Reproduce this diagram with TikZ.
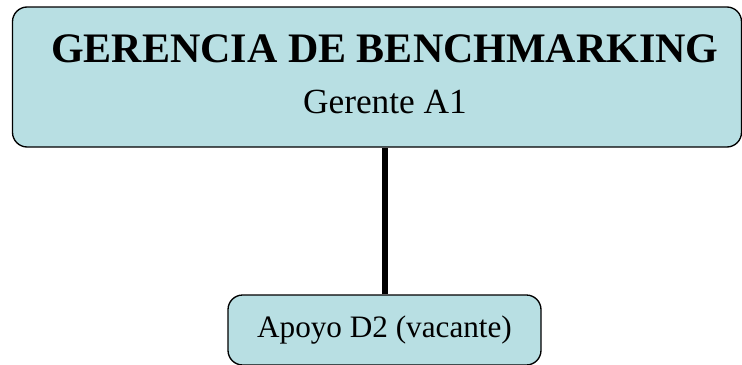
\documentclass[tikz,border=0pt]{standalone}
\usepackage{fontspec}
\setmainfont{Liberation Serif}
\definecolor{boxfill}{RGB}{184,223,227}
\tikzset{
  unit/.style={draw=black, line width=1pt, fill=boxfill, rounded corners=11pt, inner sep=0pt},
  link/.style={line width=4.5pt},
}
\begin{document}
\begin{tikzpicture}[x=0.75pt,y=-0.75pt]
  \useasboundingbox (0,0) rectangle (742,364);
  \node[unit, minimum width=546.75pt, minimum height=105pt] (ger) at (377,77) {};
  \node[align=center, font=\fontsize{31.5}{38}\selectfont] (gertxt) at (385,74) {\textbf{GERENCIA DE BENCHMARKING}\\{\fontsize{26.5}{38}\selectfont Gerente A1}};
  \node[unit, minimum width=234.75pt, minimum height=52.5pt, font=\fontsize{23.4}{26}\selectfont] (apo) at (384.5,330) {Apoyo D2 (vacante)};
  \draw[link] (apo.north) -- (apo.north |- ger.south);
\end{tikzpicture}
\end{document}
